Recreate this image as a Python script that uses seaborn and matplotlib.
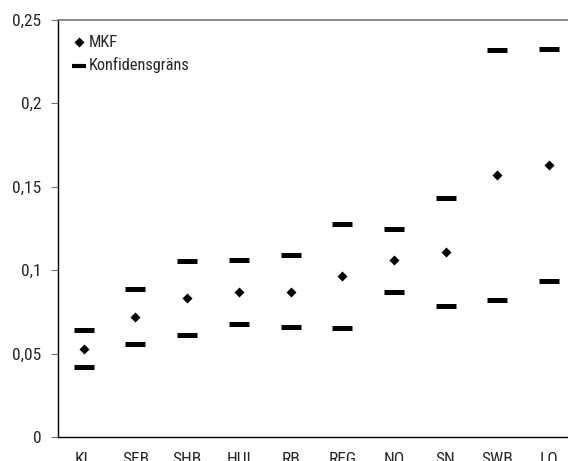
import pandas as pd
import matplotlib.pyplot as plt
import matplotlib.ticker as mticker
import seaborn as sns

# Values
banks = ["KL", "SEB", "SHB", "HUI", "RB", "REG", "NO", "SN", "SWB", "LO"]
mkf = [0.0528, 0.0722, 0.0832, 0.0870, 0.0872, 0.0962, 0.1060, 0.1108, 0.1570, 0.1628]
upper = [0.0640, 0.0890, 0.1054, 0.1058, 0.1088, 0.1274, 0.1246, 0.1430, 0.2320, 0.2325]
lower = [0.0418, 0.0556, 0.0612, 0.0680, 0.0660, 0.0654, 0.0872, 0.0786, 0.0822, 0.0936]

sns.set_style("white")
plt.rcParams["font.family"] = ["Roboto Condensed", "Archivo Narrow", "PT Sans Narrow",
                               "Liberation Sans Narrow", "DejaVu Sans"]

df = pd.DataFrame({"Bank": banks, "MKF": mkf})
ci = pd.concat([
    pd.DataFrame({"Bank": banks, "Grans": upper}),
    pd.DataFrame({"Bank": banks, "Grans": lower}),
], ignore_index=True)

fig = plt.figure(figsize=(5.68, 4.61), dpi=100)
ax = fig.add_axes([0.102, 0.052, 0.91, 0.905])

sns.scatterplot(data=df, x="Bank", y="MKF", marker="D", s=26, color="black",
                linewidth=0, label="MKF", ax=ax)
sns.scatterplot(data=ci, x="Bank", y="Grans", marker="_", s=190, color="black",
                linewidth=3.6, label="Konfidensgräns", ax=ax)

ax.set_xlim(-0.5, 9.5)
ax.set_ylim(0, 0.25)
ax.set_xlabel("")
ax.set_ylabel("")

ax.yaxis.set_major_locator(mticker.MultipleLocator(0.05))
ax.yaxis.set_major_formatter(mticker.FuncFormatter(lambda v, p: f"{v:g}".replace(".", ",")))
ax.set_xticks(range(len(banks)))
ax.set_xticklabels(banks)
ax.set_xticks([i + 0.5 for i in range(len(banks) - 1)], minor=True)
ax.tick_params(axis="x", which="major", length=0, pad=11, labelsize=12.5)
ax.tick_params(axis="x", which="minor", length=8, direction="inout", color="#777777", width=1)
ax.tick_params(axis="y", which="major", length=5, direction="out", color="#777777",
               labelsize=12.5, left=True, pad=7)

for side in ["left", "bottom"]:
    ax.spines[side].set_color("black")
    ax.spines[side].set_linewidth(1)
ax.spines["top"].set_color("#777777")
ax.spines["top"].set_linewidth(1.2)
ax.spines["right"].set_visible(False)

leg = ax.legend(loc="upper left", frameon=False, fontsize=11.8, handlelength=0.8,
                handletextpad=0.15, labelspacing=0.45, borderaxespad=0.5,
                bbox_to_anchor=(0.0, 1.0))
for h in leg.legend_handles:
    h.set_color("black")
# smaller dash in the legend, like the reference
leg.legend_handles[1].set_sizes([110])
leg.legend_handles[1].set_linewidth(3)

plt.savefig("out.png", dpi=100)
